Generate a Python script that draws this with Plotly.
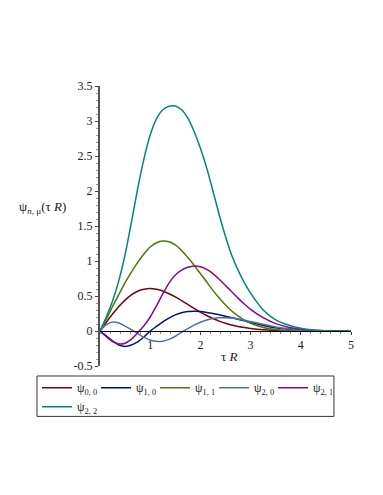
import plotly.graph_objects as go

# x grid (tau R)
tauR = [0, 0.125, 0.25, 0.375, 0.5, 0.625, 0.75, 0.875, 1.0, 1.125, 1.25, 1.375,
        1.5, 1.625, 1.75, 1.875, 2.0, 2.125, 2.25, 2.375, 2.5, 2.625, 2.75, 2.875,
        3.0, 3.25, 3.5, 3.75, 4.0, 4.25, 4.5, 4.75, 5.0]

psi_00 = [0, 0.124, 0.242, 0.350, 0.441, 0.515, 0.568, 0.597, 0.606, 0.595, 0.572, 0.532,
          0.487, 0.433, 0.379, 0.323, 0.271, 0.222, 0.178, 0.141, 0.110, 0.085, 0.065, 0.049,
          0.036, 0.018, 0.008, 0.003, 0.001, 0, 0, 0, 0]
psi_10 = [0, -0.07, -0.14, -0.20, -0.22, -0.20, -0.155, -0.085, 0.0, 0.065, 0.13, 0.185,
          0.23, 0.26, 0.277, 0.282, 0.277, 0.265, 0.25, 0.232, 0.212, 0.19, 0.168, 0.145,
          0.12, 0.08, 0.046, 0.024, 0.011, 0.005, 0.002, 0.001, 0]
psi_11 = [0, 0.17, 0.35, 0.52, 0.69, 0.84, 0.98, 1.10, 1.20, 1.26, 1.286, 1.275,
          1.23, 1.15, 1.05, 0.94, 0.82, 0.70, 0.58, 0.47, 0.37, 0.285, 0.215, 0.155,
          0.11, 0.05, 0.02, 0.008, 0.003, 0.001, 0, 0, 0]
psi_20 = [0, 0.09, 0.128, 0.115, 0.07, 0.02, -0.035, -0.09, -0.128, -0.148, -0.145, -0.12,
          -0.075, -0.02, 0.035, 0.085, 0.125, 0.158, 0.178, 0.188, 0.19, 0.184, 0.172, 0.155,
          0.135, 0.095, 0.058, 0.032, 0.016, 0.007, 0.003, 0.001, 0]
psi_21 = [0, -0.08, -0.15, -0.185, -0.175, -0.115, -0.025, 0.075, 0.2, 0.36, 0.53, 0.685,
          0.80, 0.87, 0.91, 0.93, 0.918, 0.88, 0.82, 0.74, 0.65, 0.56, 0.47, 0.385,
          0.31, 0.19, 0.105, 0.055, 0.026, 0.011, 0.004, 0.001, 0]
psi_22 = [0, 0.2, 0.43, 0.72, 1.09, 1.55, 2.03, 2.46, 2.80, 3.03, 3.16, 3.21,
          3.215, 3.16, 3.04, 2.85, 2.61, 2.33, 2.00, 1.66, 1.35, 1.08, 0.87, 0.69,
          0.54, 0.30, 0.16, 0.085, 0.04, 0.015, 0.005, 0.001, 0]

names = ["ψ<sub>0, 0</sub>", "ψ<sub>1, 0</sub>", "ψ<sub>1, 1</sub>",
         "ψ<sub>2, 0</sub>", "ψ<sub>2, 1</sub>", "ψ<sub>2, 2</sub>"]
series = [psi_00, psi_10, psi_11, psi_20, psi_21, psi_22]
colors = ["#7B0012", "#00137C", "#4C7A00", "#5270A8", "#8A0A8A", "#00877A"]

xticks = [1, 2, 3, 4, 5]
yticks = [-0.5, 0, 0.5, 1, 1.5, 2, 2.5, 3, 3.5]
ytick_text = ["-0.5", "0", "0.5", "1", "1.5", "2", "2.5", "3", "3.5"]

FONT = "Liberation Serif"

fig = go.Figure()
for name, ys, col in zip(names, series, colors):
    fig.add_trace(go.Scatter(x=tauR, y=ys, mode="lines", name=name,
                             line=dict(color=col, width=1.5, shape="spline", smoothing=0.8)))

# page body has an 8px margin, so the figure is 8px smaller and margins reduced accordingly
fig.update_layout(
    width=375, height=487,
    margin=dict(l=92, r=32, t=78, b=129),
    paper_bgcolor="white", plot_bgcolor="white",
    font=dict(family=FONT, size=12, color="#222"),
    showlegend=True,
    legend=dict(orientation="h", x=-0.255, xanchor="left", y=-0.022, yanchor="top",
                bordercolor="rgba(0,0,0,0)", borderwidth=1, bgcolor="rgba(0,0,0,0)",
                font=dict(family=FONT, size=12, color="#222"),
                entrywidth=14, tracegroupgap=0),
    xaxis=dict(range=[0, 5], anchor="free", position=0.125, showgrid=False, zeroline=False,
               showline=True, linecolor="black", linewidth=1,
               tickvals=xticks, ticks="outside", ticklen=3, tickcolor="#444",
               minor=dict(ticks="outside", ticklen=2, dtick=0.2, tickcolor="#888"),
               tickfont=dict(family=FONT, size=12)),
    yaxis=dict(range=[-0.5, 3.5], showgrid=False, zeroline=False,
               showline=True, linecolor="#555", linewidth=2,
               tickvals=yticks, ticktext=ytick_text, ticks="outside", ticklen=3, tickcolor="#444",
               minor=dict(ticks="outside", ticklen=2, dtick=0.1, tickcolor="#999"),
               tickfont=dict(family=FONT, size=12)),
    shapes=[
        dict(type="rect", xref="paper", yref="paper", x0=-0.251, x1=0.932, y0=-0.18, y1=-0.0357,
             line=dict(color="#333", width=1), fillcolor="rgba(0,0,0,0)", layer="below"),
    ],
    annotations=[
        dict(text="ψ<sub><i>n</i>, μ</sub>(τ <i>R</i>)", xref="paper", yref="y",
             x=-0.23, y=1.76, xanchor="center", yanchor="middle", showarrow=False,
             font=dict(family=FONT, size=13, color="#222")),
        dict(text="τ <i>R</i>", xref="x", yref="y", x=2.56, y=-0.36,
             xanchor="center", yanchor="middle", showarrow=False,
             font=dict(family=FONT, size=13, color="#222")),
    ],
)

fig.write_html("out.html")
